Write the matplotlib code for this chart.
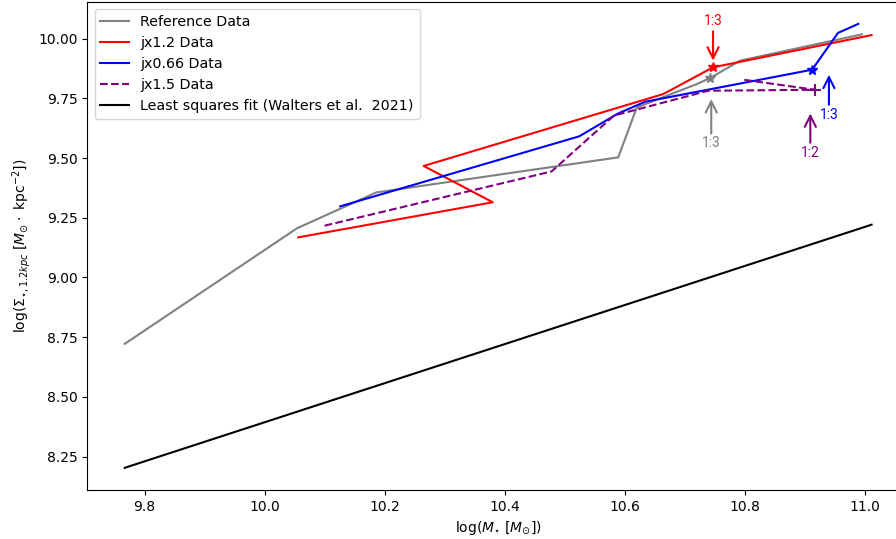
import matplotlib
matplotlib.use("Agg")
import matplotlib.pyplot as plt

# log stellar mass (x) and log central surface density (y) for each run
ref_x = [9.767, 10.054, 10.186, 10.589, 10.620, 10.720, 10.742, 10.792, 10.995]
ref_y = [8.722, 9.206, 9.356, 9.503, 9.712, 9.810, 9.835, 9.908, 10.018]

jx12_x = [10.056, 10.380, 10.265, 10.664, 10.747, 11.011]
jx12_y = [9.168, 9.315, 9.467, 9.768, 9.880, 10.015]

jx066_x = [10.126, 10.524, 10.589, 10.634, 10.912, 10.955, 10.989]
jx066_y = [9.298, 9.591, 9.687, 9.736, 9.870, 10.024, 10.062]

jx15_x = [10.100, 10.478, 10.582, 10.739, 10.917, 10.798]
jx15_y = [9.217, 9.444, 9.678, 9.782, 9.786, 9.828]

# least squares fit (Walters et al. 2021), end points
fit_x = [9.767, 11.011]
fit_y = [8.203, 9.221]

# merger snapshots marked on each track (index into the arrays above)
ref_mark = 6
jx12_mark = 4
jx066_mark = 4
jx15_mark = 4

# annotations: label, colour, x, text y, arrow tip y
notes = [
    ("1:3", "red", 10.747, 10.072, 9.908),
    ("1:3", "gray", 10.744, 9.562, 9.747),
    ("1:2", "purple", 10.909, 9.523, 9.687),
    ("1:3", "blue", 10.940, 9.682, 9.849),
]

fig = plt.figure(figsize=(8.96, 5.39), dpi=100)
ax = fig.add_axes([0.0975, 0.0909, 0.9169, 0.906])

ax.plot(ref_x, ref_y, color="gray", lw=1.5, label="Reference Data")
ax.plot(jx12_x, jx12_y, color="red", lw=1.5, label="jx1.2 Data")
ax.plot(jx066_x, jx066_y, color="blue", lw=1.5, label="jx0.66 Data")
ax.plot(jx15_x, jx15_y, color="purple", lw=1.5, ls="--", label="jx1.5 Data")
ax.plot(fit_x, fit_y, color="black", lw=1.5,
        label="Least squares fit (Walters et al.  2021)")

# markers at the merger snapshots
ax.plot(ref_x[ref_mark], ref_y[ref_mark], "*", color="gray", ms=7)
ax.plot(jx12_x[jx12_mark], jx12_y[jx12_mark], "*", color="red", ms=7)
ax.plot(jx066_x[jx066_mark], jx066_y[jx066_mark], "*", color="blue", ms=7)
ax.plot(jx15_x[jx15_mark], jx15_y[jx15_mark], "+", color="purple", ms=8, mew=1.5)

for label, col, x, ty, tipy in notes:
    ax.annotate(label, xy=(x, tipy), xytext=(x, ty), color=col, fontsize=10,
                family=["Roboto", "DejaVu Sans"], ha="center", va="center",
                arrowprops=dict(arrowstyle="->", color=col, lw=1.5,
                                mutation_scale=20, shrinkA=0, shrinkB=0))

ax.set_xlabel(r"log($M_{\star}$ [$M_{\odot}$])")
ax.set_ylabel(r"log($\Sigma_{\star,1.2kpc}$ [$M_{\odot}\cdot$ kpc$^{-2}$])")
ax.legend(loc="upper left", fontsize=10.3)

fig.savefig("out.png", dpi=100)
